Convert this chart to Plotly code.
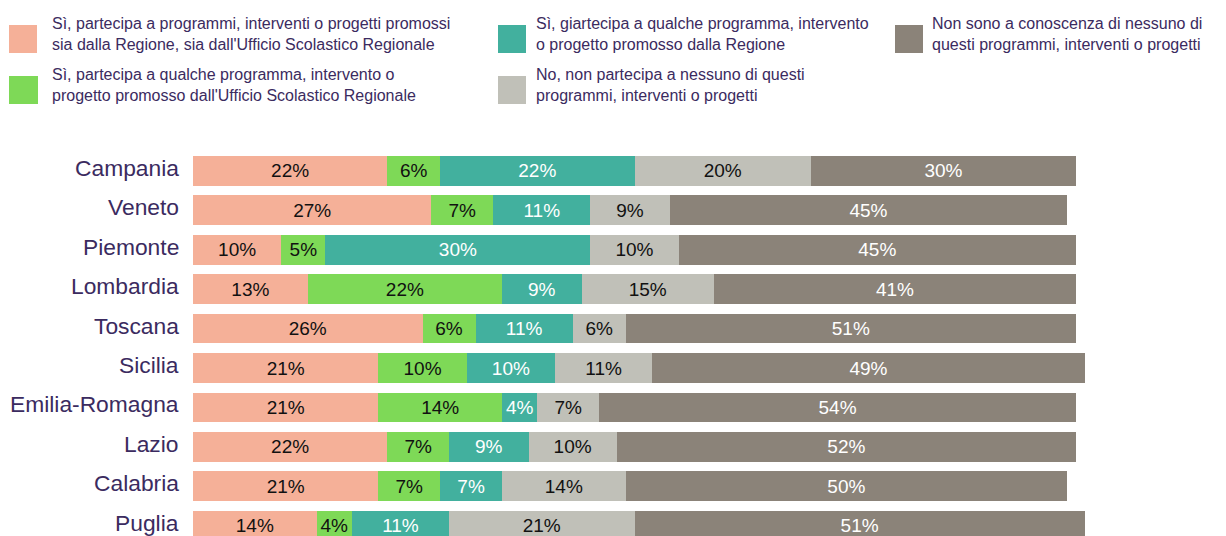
import plotly.graph_objects as go

regions = ["Campania", "Veneto", "Piemonte", "Lombardia", "Toscana", "Sicilia",
           "Emilia-Romagna", "Lazio", "Calabria", "Puglia"]

s_both = [22, 27, 10, 13, 26, 21, 21, 22, 21, 14]
s_usr = [6, 7, 5, 22, 6, 10, 14, 7, 7, 4]
s_reg = [22, 11, 30, 9, 11, 10, 4, 9, 7, 11]
s_none = [20, 9, 10, 15, 6, 11, 7, 10, 14, 21]
s_unknown = [30, 45, 45, 41, 51, 49, 54, 52, 50, 51]

series_names = [
    "Sì, partecipa a programmi, interventi o progetti promossi<br>sia dalla Regione, sia dall'Ufficio Scolastico Regionale",
    "Sì, partecipa a qualche programma, intervento o<br>progetto promosso dall'Ufficio Scolastico Regionale",
    "Sì, giartecipa a qualche programma, intervento<br>o progetto promosso dalla Regione",
    "No, non partecipa a nessuno di questi<br>programmi, interventi o progetti",
    "Non sono a conoscenza di nessuno di<br>questi programmi, interventi o progetti",
]
series_values = [s_both, s_usr, s_reg, s_none, s_unknown]
colors = ["#F5B098", "#7ED957", "#42B09E", "#C0C0B8", "#8B8379"]
text_colors = ["#111111", "#111111", "#FFFFFF", "#111111", "#FFFFFF"]
FONT = "Liberation Sans, Arial, sans-serif"
LABEL_COLOR = "#3B2B60"

# the page body has an 8px margin; work in reference pixels and shift by it
OFF = 8
W, H = 1226 - OFF, 536 - OFF
L, R, T, B = 193 - OFF, 0, 140 - OFF, 0
PX_PER_PCT = 8.83
ROW0, ROW_STEP = 170.8 - OFF, 39.44

ypos = list(range(len(regions)))
fig = go.Figure()
for name, vals, c, tc in zip(series_names, series_values, colors, text_colors):
    fig.add_trace(go.Bar(
        y=ypos, x=vals, orientation="h", name=name,
        marker=dict(color=c, line=dict(width=0)),
        text=[f"{v}%" for v in vals], textposition="inside",
        insidetextanchor="middle", textangle=0,
        textfont=dict(color=tc, size=19, family=FONT),
        width=0.753, showlegend=False, hoverinfo="skip",
    ))

pw = W - L - R
ph = H - T - B
x_max = pw / PX_PER_PCT
y_top = (T - ROW0) / ROW_STEP
y_bot = (H - B - ROW0) / ROW_STEP

def px_x(px):
    return (px - OFF - L) / pw

def px_y(py):
    return (H - B - (py - OFF)) / ph

# custom legend (3 columns), positions in reference pixels
legend_items = [
    (0, 9, 25, 37, 53, 50, 34),
    (1, 9, 76, 38, 104, 50, 85),
    (2, 498, 25, 526, 53, 534, 34),
    (3, 498, 76, 526, 104, 534, 85),
    (4, 895, 25, 923, 53, 930, 34),
]
shapes = []
annotations = []
for idx, x0, y0, x1, y1, tx, ty in legend_items:
    shapes.append(dict(type="rect", xref="paper", yref="paper",
                       x0=px_x(x0), x1=px_x(x1), y0=px_y(y1), y1=px_y(y0),
                       fillcolor=colors[idx], line=dict(width=0), layer="above"))
    annotations.append(dict(xref="paper", yref="paper", x=px_x(tx), y=px_y(ty),
                            xanchor="left", yanchor="middle", align="left",
                            text=series_names[idx], showarrow=False,
                            font=dict(size=16, color=LABEL_COLOR, family=FONT)))

# category labels
for yi, reg in zip(ypos, regions):
    annotations.append(dict(xref="paper", yref="y", x=px_x(181), y=yi,
                            xanchor="right", yanchor="middle", align="right",
                            text=reg, showarrow=False, yshift=3,
                            font=dict(size=22.8, color=LABEL_COLOR, family=FONT)))

fig.update_layout(
    barmode="stack",
    width=W, height=H,
    margin=dict(l=L, r=R, t=T, b=B, pad=0, autoexpand=False),
    paper_bgcolor="white", plot_bgcolor="white",
    uniformtext=dict(minsize=19, mode="show"),
    xaxis=dict(range=[0, x_max], visible=False, showgrid=False, zeroline=False),
    yaxis=dict(range=[y_bot, y_top], tickvals=ypos, showticklabels=False,
               showgrid=False, zeroline=False, showline=False, ticks=""),
    shapes=shapes,
    annotations=annotations,
    showlegend=False,
)

fig.write_html("out.html")
